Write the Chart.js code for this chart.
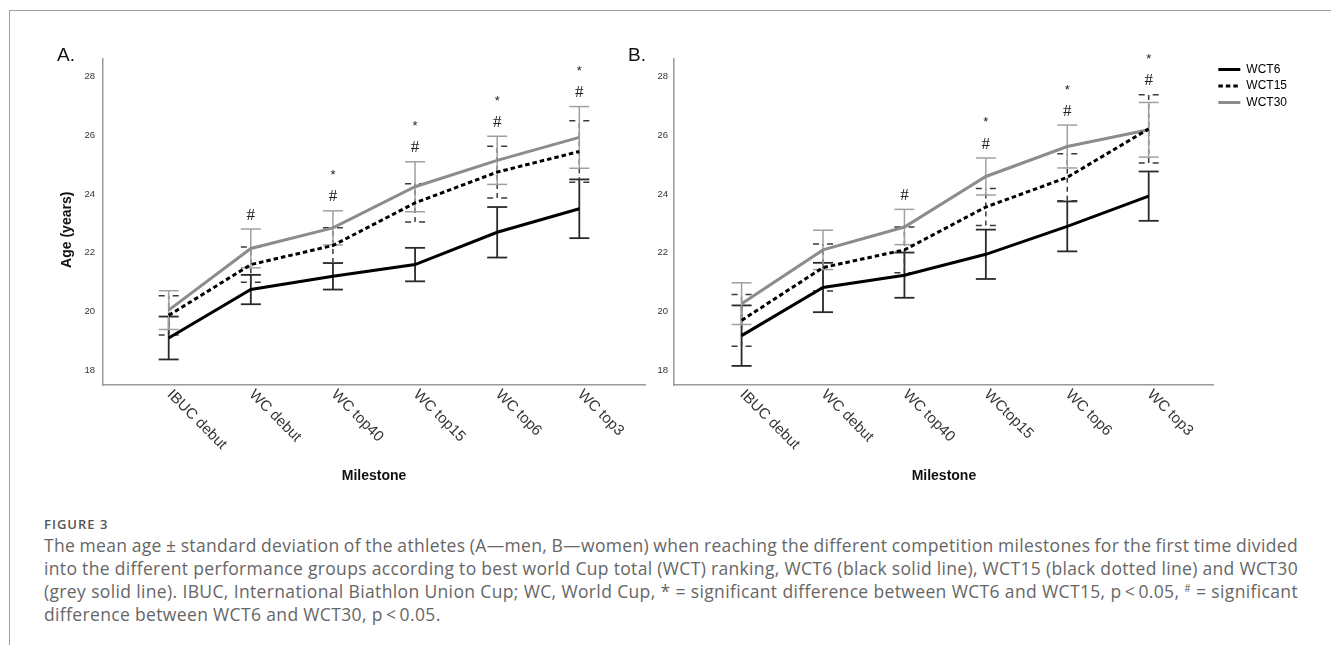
<!DOCTYPE html>
<html>
<head>
<meta charset="utf-8">
<script src="https://cdn.jsdelivr.net/npm/chart.js@4.4.0/dist/chart.umd.min.js"></script>
<style>
  html, body { margin: 0; padding: 0; background: #fff; }
  body { width: 1331px; height: 652px; position: relative; overflow: hidden; font-family: "Liberation Sans", Arial, sans-serif; }
  .frame { position: absolute; left: 9px; top: 10px; right: -2px; height: 634px; border-top: 1.5px solid #a0a0a0; border-left: 1.5px solid #a0a0a0; }
  .panel { position: absolute; top: 44.5px; font-size: 19px; line-height: 19px; color: #111; }
  #wrapA { position: absolute; left: 0; top: 0; width: 660px; height: 490px; }
  #wrapB { position: absolute; left: 620px; top: 0; width: 711px; height: 490px; }
  .fig { position: absolute; left: 44px; top: 515px; font: 600 13px "Open Sans", sans-serif; color: #555; letter-spacing: 1px; line-height: 18px; }
  .cap { position: absolute; left: 44px; top: 534px; width: 1254px; font: 17.5px "Open Sans", sans-serif; color: #666; line-height: 23px; letter-spacing: 0.35px; }
  .cap .ln { white-space: nowrap; }
  .cap sup { font-size: 10px; vertical-align: 6px; line-height: 0; }
</style>
</head>
<body>
<div class="frame"></div>
<div id="wrapA"><canvas id="chartA" width="660" height="490"></canvas></div>
<div id="wrapB"><canvas id="chartB" width="711" height="490"></canvas></div>
<div class="panel" style="left:57px">A.</div>
<div class="panel" style="left:628px">B.</div>
<div class="fig">FIGURE 3</div>
<div class="cap">
  <div class="ln fit"><span>The mean age ± standard deviation of the athletes (A—men, B—women) when reaching the different competition milestones for the first time divided</span></div>
  <div class="ln fit"><span>into the different performance groups according to best world Cup total (WCT) ranking, WCT6 (black solid line), WCT15 (black dotted line) and WCT30</span></div>
  <div class="ln fit"><span>(grey solid line). IBUC, International Biathlon Union Cup; WC, World Cup, * = significant difference between WCT6 and WCT15, p&#8201;&lt;&#8201;0.05, <sup>#</sup> = significant</span></div>
  <div class="ln"><span>difference between WCT6 and WCT30, p&#8201;&lt;&#8201;0.05.</span></div>
</div>
<script>
// Données
const milestonesA = ['IBUC debut', 'WC debut', 'WC top40', 'WC top15', 'WC top6', 'WC top3'];
const milestonesB = ['IBUC debut', 'WC debut', 'WC top40', 'WCtop15', 'WC top6', 'WC top3'];
const groups = ['WCT6', 'WCT15', 'WCT30'];
const yTicks = [18, 20, 22, 24, 26, 28];

// A - hommes (moyenne, écart-type)
const menWCT6 = [19.1, 20.75, 21.2, 21.6, 22.7, 23.5];
const menWCT6sd = [0.73, 0.5, 0.45, 0.57, 0.86, 1.0];
const menWCT15 = [19.87, 21.6, 22.25, 23.7, 24.75, 25.45];
const menWCT15sd = [0.67, 0.6, 0.6, 0.65, 0.88, 1.05];
const menWCT30 = [20.05, 22.15, 22.85, 24.25, 25.15, 25.93];
const menWCT30sd = [0.66, 0.66, 0.58, 0.85, 0.82, 1.05];

// B - femmes
const womenWCT6 = [19.18, 20.82, 21.24, 21.95, 22.9, 23.93];
const womenWCT6sd = [1.03, 0.84, 0.77, 0.84, 0.85, 0.84];
const womenWCT15 = [19.7, 21.5, 22.1, 23.56, 24.57, 26.22];
const womenWCT15sd = [0.88, 0.8, 0.78, 0.63, 0.8, 1.16];
const womenWCT30 = [20.27, 22.1, 22.88, 24.6, 25.62, 26.19];
const womenWCT30sd = [0.71, 0.67, 0.6, 0.63, 0.73, 0.93];

// Différences significatives (* = WCT6 vs WCT15, # = WCT6 vs WCT30)
const sigA = ['', '#', '*#', '*#', '*#', '*#'];
const sigB = ['', '', '#', '*#', '*#', '*#'];

const sansFont = '"Liberation Sans", Arial, sans-serif';

const lineStyles = [
    { color: '#000000', dash: [], err: { color: '#2a2a2a', width: 1.8, stem: [], cap: [] } },
    { color: '#000000', dash: [4.5, 3], err: { color: '#3a3a3a', width: 1.5, stem: [5, 4], cap: [6, 8] } },
    { color: '#8c8c8c', dash: [], err: { color: '#a0a0a0', width: 1.5, stem: [], cap: [] } }
];

// Barres d'erreur (moyenne ± écart-type)
const errorBars = {
    id: 'errorBars',
    beforeDatasetsDraw(chart) {
        const { ctx, scales: { x, y } } = chart;
        chart.data.datasets.forEach(ds => {
            const st = ds.errStyle;
            ds.data.forEach((p, i) => {
                const px = x.getPixelForValue(p.x);
                const lo = y.getPixelForValue(p.y - ds.sd[i]);
                const hi = y.getPixelForValue(p.y + ds.sd[i]);
                ctx.save();
                ctx.strokeStyle = st.color;
                ctx.lineWidth = st.width;
                ctx.setLineDash(st.stem);
                ctx.beginPath();
                ctx.moveTo(px, lo);
                ctx.lineTo(px, hi);
                ctx.stroke();
                ctx.setLineDash(st.cap);
                [lo, hi].forEach(yy => {
                    ctx.beginPath();
                    ctx.moveTo(px - 10, yy);
                    ctx.lineTo(px + 10, yy);
                    ctx.stroke();
                });
                ctx.restore();
            });
        });
    }
};

// Étiquettes inclinées de l'axe X et marques de signification
const extras = {
    id: 'extras',
    afterDraw(chart) {
        const { ctx, scales: { x, y }, chartArea } = chart;
        const labels = chart.data.labels;
        const sig = chart.options.plugins.extras.sig;
        labels.forEach((lab, i) => {
            ctx.save();
            ctx.translate(x.getPixelForValue(i) + 6, chartArea.bottom + 2);
            ctx.rotate(Math.PI / 4);
            ctx.font = '15px ' + sansFont;
            ctx.fillStyle = '#333';
            ctx.textAlign = 'left';
            ctx.textBaseline = 'top';
            ctx.fillText(lab, 0, 0);
            ctx.restore();

            if (!sig[i]) return;
            let top = -Infinity;
            chart.data.datasets.forEach(ds => { top = Math.max(top, ds.data[i].y + ds.sd[i]); });
            const yy = y.getPixelForValue(top);
            const px = x.getPixelForValue(i);
            ctx.save();
            ctx.fillStyle = '#222';
            ctx.textAlign = 'center';
            ctx.textBaseline = 'alphabetic';
            if (sig[i].includes('#')) {
                ctx.font = '17px "Liberation Serif", "Times New Roman", serif';
                ctx.fillText('#', px, yy - 9.4);
            }
            if (sig[i].includes('*')) {
                ctx.font = '13px ' + sansFont;
                ctx.fillText('*', px, yy - 31.5);
            }
            ctx.restore();
        });
    }
};

function makeChart(id, labels, means, sds, sig, cfg) {
    const datasets = groups.map((g, k) => ({
        label: g,
        data: means[k].map((v, i) => ({ x: i, y: v })),
        sd: sds[k],
        errStyle: lineStyles[k].err,
        borderColor: lineStyles[k].color,
        borderDash: lineStyles[k].dash,
        borderWidth: 3,
        pointRadius: 0,
        tension: 0,
        fill: false
    }));
    return new Chart(document.getElementById(id), {
        type: 'line',
        data: { labels: labels, datasets: datasets },
        options: {
            responsive: false,
            animation: false,
            devicePixelRatio: 1,
            layout: { padding: cfg.padding },
            plugins: {
                tooltip: { enabled: false },
                extras: { sig: sig },
                legend: cfg.legend
            },
            scales: {
                x: {
                    type: 'linear',
                    min: cfg.xMin,
                    max: 5.8,
                    grid: { display: false, drawTicks: false },
                    border: { display: true, color: '#9a9a9a', width: 1.5 },
                    ticks: { display: false },
                    title: {
                        display: true, text: 'Milestone', color: '#111',
                        font: { size: 14, weight: 'bold', family: sansFont },
                        padding: { top: 0, bottom: 5.6 }
                    },
                    afterFit: s => { s.height = 105; }
                },
                y: {
                    min: 17.5,
                    max: 28.6,
                    grid: { display: false, drawTicks: false },
                    border: { display: true, color: '#9a9a9a', width: 1.5 },
                    afterBuildTicks: s => { s.ticks = yTicks.map(v => ({ value: v })); },
                    ticks: { color: '#333', font: { size: 9.5, family: sansFont }, padding: cfg.tickPad },
                    title: cfg.yTitle,
                    afterFit: s => { s.width = cfg.yWidth; }
                }
            }
        },
        plugins: [errorBars, extras]
    });
}

makeChart('chartA', milestonesA,
    [menWCT6, menWCT15, menWCT30], [menWCT6sd, menWCT15sd, menWCT30sd], sigA, {
    padding: { top: 59, right: 15, left: 0, bottom: 0 },
    xMin: -0.8,
    yWidth: 103,
    tickPad: 8,
    legend: { display: false },
    yTitle: {
        display: true, text: 'Age (years)\u00a0\u00a0\u00a0\u00a0', color: '#111',
        font: { size: 14, weight: 'bold', family: sansFont },
        padding: { top: 58.6, bottom: 0 }
    }
});

makeChart('chartB', milestonesB,
    [womenWCT6, womenWCT15, womenWCT30], [womenWCT6sd, womenWCT15sd, womenWCT30sd], sigB, {
    padding: { top: 59, right: 34, left: 0, bottom: 0 },
    xMin: -0.83,
    yWidth: 54,
    tickPad: 6,
    yTitle: { display: false },
    legend: {
        display: true,
        position: 'right',
        align: 'start',
        labels: {
            usePointStyle: true,
            pointStyleWidth: 22,
            boxHeight: 12,
            padding: 4.5,
            color: '#222',
            font: { size: 12, family: sansFont },
            generateLabels: () => groups.map((g, k) => ({
                text: g,
                fillStyle: lineStyles[k].color,
                strokeStyle: lineStyles[k].color,
                lineDash: lineStyles[k].dash,
                lineWidth: 3,
                pointStyle: 'line',
                hidden: false,
                datasetIndex: k
            }))
        }
    }
});

// Légende : justification des lignes
document.querySelectorAll('.cap .fit span').forEach(sp => {
    const w = sp.getBoundingClientRect().width;
    const n = (sp.textContent.match(/ /g) || []).length;
    sp.style.wordSpacing = ((1254 - w) / n) + 'px';
});
</script>
</body>
</html>
